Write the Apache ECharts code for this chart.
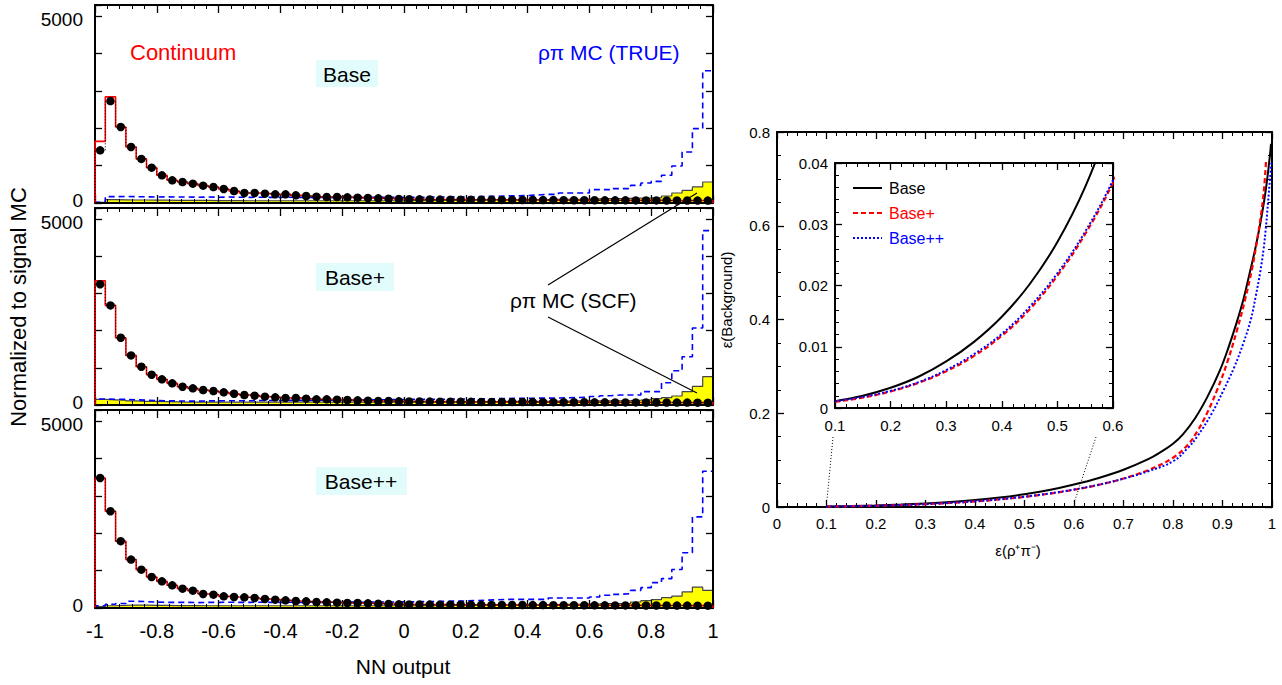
<!DOCTYPE html>
<html><head><meta charset="utf-8">
<script src="https://cdn.jsdelivr.net/npm/echarts@6/dist/echarts.min.js"></script>
<style>html,body{margin:0;padding:0;background:#fff;} #c{width:1282px;height:685px;}</style>
</head><body><div id="c"></div>
<script>
// ---------- DATA ----------
// NN output histograms: 60 bins from -1 to 1
const nnTickLabels = ['-1','-0.8','-0.6','-0.4','-0.2','0','0.2','0.4','0.6','0.8','1'];
const yTickLabels = ['0','5000'];

const baseCont = [1650,2840,2035,1500,1180,946,741,607,562,518, 464,428,375,321,268,268,250,232,232,205, 187,170,160,160,152,143,134,125,116,107, 100,98,95,92,90,90,88,86,85,83, 82,80,80,78,77,76,75,74,73,72, 72,71,70,70,69,68,67,66,65,64];
const baseData = [1410,2730,2035,1500,1180,946,741,607,562,518, 464,428,375,321,268,268,250,232,232,205, 187,170,160,160,152,143,134,125,116,107, 100,98,95,92,90,90,88,86,85,83, 82,80,80,78,77,76,75,74,73,72, 72,71,70,70,69,68,67,66,65,64];
const baseTrue = [20,170,175,170,165,160,165,160,160,155, 160,155,160,155,150,155,150,150,155,150, 150,150,145,150,150,145,150,150,150,150, 155,155,160,160,165,165,170,175,180,190, 190,200,215,232,232,268,268,268,357,357, 384,384,473,535,580,741,990,1366,1990,3540];
const baseScf = [20,90,85,80,80,75,75,70,70,70, 70,65,65,65,60,60,60,60,60,60, 60,60,60,60,60,60,60,60,60,60, 65,65,65,70,70,70,75,75,80,80, 85,85,90,90,95,100,100,105,110,115, 120,125,130,135,143,187,268,340,430,562];

const plusCont = [3340,2680,1810,1334,1030,815,690,582,492,448, 403,376,340,304,269,251,224,206,188,188, 170,152,152,143,134,125,116,107,107,98, 95,93,92,90,88,87,85,84,83,82, 80,80,78,77,76,75,74,73,72,71, 70,70,69,68,67,66,65,64,63,62];
const plusData = [3250,2680,1810,1334,1030,815,690,582,492,448, 403,376,340,304,269,251,224,206,188,188, 170,152,152,143,134,125,116,107,107,98, 95,93,92,90,88,87,85,84,83,82, 80,80,78,77,76,75,74,73,72,71, 70,70,69,68,67,66,65,64,63,62];
const plusTrue = [160,155,150,140,130,120,110,110,105,105, 110,110,115,115,115,120,120,120,125,125, 130,130,130,135,135,140,140,140,145,145, 150,150,155,155,160,160,165,165,170,175, 180,180,185,185,190,195,200,210,230,250, 269,269,269,360,360,600,920,1300,2070,4690];
const plusScf = [150,140,130,110,100,95,90,85,80,80, 75,75,75,75,75,75,75,75,75,75, 75,75,75,75,75,75,75,75,75,75, 75,75,80,80,80,85,85,90,90,95, 95,100,100,100,105,105,110,110,110,110, 115,120,130,145,170,197,242,358,500,761];

const ppCont = [3480,2590,1790,1295,1027,830,714,607,518,464, 375,357,312,295,286,268,241,223,205,187, 179,160,152,143,134,134,125,116,107,98, 95,93,92,90,88,87,85,84,83,82, 80,80,78,77,76,75,74,73,72,71, 70,70,69,68,67,66,65,64,63,62];
const ppData = [3480,2590,1790,1295,1027,830,714,607,518,464, 375,357,312,295,286,268,241,223,205,187, 179,160,152,143,134,134,125,116,107,98, 95,93,92,90,88,87,85,84,83,82, 80,80,78,77,76,75,74,73,72,71, 70,70,69,68,67,66,65,64,63,62];
const ppTrue = [60,100,120,180,170,160,150,150,150,145, 150,150,155,150,150,155,150,150,155,150, 155,150,155,155,160,155,160,160,160,165, 165,170,175,180,185,190,200,210,220,232, 232,232,232,232,268,268,268,268,295,340, 366,384,473,545,680,785,1030,1480,2440,3660];
const ppScf = [40,60,70,80,75,70,70,65,65,65, 60,60,60,60,60,60,60,60,60,60, 60,60,60,60,60,60,60,60,60,60, 60,65,65,65,70,70,70,75,75,80, 80,80,85,85,90,95,100,105,110,116, 116,120,160,196,223,277,320,430,560,473];

// Efficiency curves: signal efficiency (x) vs background efficiency (y)
const baseEffSig = [0.1,0.15,0.2,0.25,0.3,0.35,0.4,0.45,0.5,0.55,0.6,0.65,0.7,0.75,0.775,0.8,0.82,0.845,0.87,0.895,0.912,0.929,0.943,0.954,0.966,0.976,0.984,0.99,0.995,0.998];
const baseEffBkg = [0.0011,0.002,0.0033,0.0051,0.0076,0.0108,0.0149,0.0202,0.0271,0.0361,0.0479,0.062,0.0795,0.102,0.117,0.135,0.155,0.19,0.236,0.292,0.34,0.395,0.446,0.495,0.55,0.603,0.652,0.697,0.742,0.775];
const plusEffSig = [0.1,0.15,0.2,0.25,0.3,0.35,0.4,0.45,0.5,0.55,0.6,0.65,0.7,0.75,0.8,0.83,0.85,0.87,0.89,0.91,0.93,0.945,0.96,0.97,0.978,0.984,0.988];
const plusEffBkg = [0.001,0.0017,0.0027,0.0041,0.006,0.0085,0.0118,0.0161,0.0216,0.0284,0.0368,0.0473,0.0608,0.0788,0.105,0.133,0.163,0.203,0.252,0.31,0.38,0.44,0.51,0.57,0.625,0.68,0.739];
const ppEffSig = [0.1,0.15,0.2,0.25,0.3,0.35,0.4,0.45,0.5,0.55,0.6,0.65,0.7,0.75,0.8,0.83,0.85,0.878,0.902,0.924,0.942,0.957,0.967,0.976,0.983,0.988,0.992,0.996,0.999];
const ppEffBkg = [0.0011,0.0018,0.0028,0.0042,0.0062,0.0088,0.0121,0.0165,0.022,0.0288,0.0372,0.0476,0.0604,0.0764,0.0974,0.126,0.152,0.199,0.249,0.299,0.349,0.399,0.449,0.5,0.55,0.6,0.65,0.7,0.735];

// ---------- CHART ----------
const FONT = "'Liberation Sans', Arial, Helvetica, sans-serif";
const NB = 60, XMIN = -1, XMAX = 1, BW = (XMAX - XMIN) / NB;
function stepPts(vals) {
  const pts = [[XMIN, 0]];
  vals.forEach((v, i) => pts.push([XMIN + i * BW, v]));
  pts.push([XMAX, vals[vals.length - 1]]);
  pts.push([XMAX, 0]);
  return pts;
}
function centers(vals) { return vals.map((v, i) => [XMIN + (i + 0.5) * BW, v]); }
function pairs(xs, ys) { return xs.map((x, i) => [x, ys[i]]); }

function axis(o) {
  return {
    type: 'value', gridIndex: o.grid, position: o.pos, min: o.min, max: o.max, interval: o.interval,
    axisLine: { show: true, onZero: false, lineStyle: { color: '#000', width: o.lw || 2 } },
    axisTick: { show: true, inside: true, length: o.tl || 8, lineStyle: { color: '#000', width: 1.3 } },
    minorTick: { show: !!o.minor, splitNumber: o.minor || 5, length: o.ml || 4, lineStyle: { color: '#000', width: 1 } },
    splitLine: { show: false }, minorSplitLine: { show: false },
    axisLabel: { show: !!o.fmt, formatter: o.fmt, fontSize: o.fs || 15, color: '#000', fontFamily: FONT, margin: o.margin || 8,
      hideOverlap: false, showMinLabel: true, showMaxLabel: true, rich: o.rich },
    z: o.z || 3
  };
}

const panels = [
  { top: 5, h: 198, cont: baseCont, data: baseData, tru: baseTrue, scf: baseScf },
  { top: 208, h: 197, cont: plusCont, data: plusData, tru: plusTrue, scf: plusScf },
  { top: 410, h: 198, cont: ppCont, data: ppData, tru: ppTrue, scf: ppScf }
];

const grids = [], xAxes = [], yAxes = [], series = [];
const nnFmt = v => { const s = String(+(+v).toFixed(2)); return nnTickLabels.includes(s) ? s : ''; };
const yFmt = v => { const s = String(Math.round(v)); if (!yTickLabels.includes(s)) return ''; return s === '0' ? '{lo|0}' : '{hi|' + s + '}'; };
const yRich = { lo: { fontSize: 19, fontFamily: FONT, color: '#000', padding: [0, 0, 6, 0] }, hi: { fontSize: 19, fontFamily: FONT, color: '#000', padding: [6, 0, 0, 0] } };

panels.forEach((p, i) => {
  grids.push({ left: 95, top: p.top, width: 618, height: p.h });
  xAxes.push(axis({ grid: i, pos: 'bottom', min: XMIN, max: XMAX, interval: 0.2, minor: 5, fmt: i === 2 ? nnFmt : null, fs: 20, margin: 13 }));
  xAxes.push(axis({ grid: i, pos: 'top', min: XMIN, max: XMAX, interval: 0.2, minor: 5 }));
  yAxes.push(axis({ grid: i, pos: 'left', min: 0, max: 5300, interval: 1000, fmt: yFmt, rich: yRich, fs: 19, margin: 12, tl: 7 }));
  yAxes.push(axis({ grid: i, pos: 'right', min: 0, max: 5300, interval: 1000, tl: 7 }));
  const xi = 2 * i, yi = 2 * i;
  series.push({ type: 'line', xAxisIndex: xi, yAxisIndex: yi, data: stepPts(p.scf), step: 'end', symbol: 'none', silent: true,
    lineStyle: { color: '#444', width: 1.2 }, areaStyle: { color: '#ffff00', opacity: 1 }, z: 1 });
  series.push({ type: 'line', xAxisIndex: xi, yAxisIndex: yi, data: stepPts(p.tru), step: 'end', symbol: 'none', silent: true,
    lineStyle: { color: '#0000ff', width: 1.6, type: [6, 4] }, z: 2 });
  series.push({ type: 'line', xAxisIndex: xi, yAxisIndex: yi, data: stepPts(p.cont), step: 'end', symbol: 'none', silent: true,
    lineStyle: { color: '#ff0000', width: 1.6 }, z: 3 });
  series.push({ type: 'line', xAxisIndex: xi, yAxisIndex: yi, data: stepPts(p.data), step: 'end', symbol: 'none', silent: true,
    lineStyle: { color: '#000', width: 1, type: [1, 2] }, z: 4 });
  series.push({ type: 'scatter', xAxisIndex: xi, yAxisIndex: yi, data: centers(p.data), symbol: 'circle', symbolSize: 8.5, silent: true,
    itemStyle: { color: '#000', opacity: 1 }, z: 5 });
});

// right main plot (grid 3) and inset (grid 4)
grids.push({ left: 777, top: 132, width: 495, height: 375 });
grids.push({ left: 835, top: 163, width: 278, height: 245, show: true, backgroundColor: '#fff', borderWidth: 0, z: 6 });
const effFmt = v => { const r = +(+v).toFixed(3); return r === 0 ? '0' : r === 1 ? '1' : String(r); };
xAxes.push(axis({ grid: 3, pos: 'bottom', min: 0, max: 1, interval: 0.1, minor: 5, fmt: effFmt, fs: 15, margin: 9, tl: 7, ml: 4 }));
xAxes.push(axis({ grid: 3, pos: 'top', min: 0, max: 1, interval: 0.1, minor: 5, tl: 7, ml: 4 }));
yAxes.push(axis({ grid: 3, pos: 'left', min: 0, max: 0.8, interval: 0.2, minor: 4, fmt: effFmt, fs: 15, margin: 7, tl: 7, ml: 4 }));
yAxes.push(axis({ grid: 3, pos: 'right', min: 0, max: 0.8, interval: 0.2, minor: 4, tl: 7, ml: 4 }));
xAxes.push(axis({ grid: 4, pos: 'bottom', min: 0.1, max: 0.6, interval: 0.1, minor: 5, fmt: effFmt, fs: 15, margin: 10, tl: 7, ml: 4, z: 7 }));
xAxes.push(axis({ grid: 4, pos: 'top', min: 0.1, max: 0.6, interval: 0.1, minor: 5, tl: 7, ml: 4, z: 7 }));
yAxes.push(axis({ grid: 4, pos: 'left', min: 0, max: 0.04, interval: 0.01, minor: 5, fmt: effFmt, fs: 15, margin: 7, tl: 7, ml: 4, z: 7 }));
yAxes.push(axis({ grid: 4, pos: 'right', min: 0, max: 0.04, interval: 0.01, minor: 5, tl: 7, ml: 4, z: 7 }));

const curves = [
  { name: 'Base', d: pairs(baseEffSig, baseEffBkg), ls: { color: '#000', width: 2, type: 'solid' } },
  { name: 'Base+', d: pairs(plusEffSig, plusEffBkg), ls: { color: '#ff0000', width: 2.2, type: [5, 3] } },
  { name: 'Base++', d: pairs(ppEffSig, ppEffBkg), ls: { color: '#0000ff', width: 2, type: [2, 2] } }
];
curves.forEach(c => {
  series.push({ type: 'line', name: c.name, xAxisIndex: 6, yAxisIndex: 6, data: c.d, symbol: 'none', smooth: 0.4, silent: true, lineStyle: c.ls, itemStyle: { color: c.ls.color }, z: 3 });
});
curves.forEach(c => {
  series.push({ type: 'line', name: c.name, xAxisIndex: 8, yAxisIndex: 8, data: c.d, symbol: 'none', smooth: 0.4, clip: true, silent: true, lineStyle: c.ls, itemStyle: { color: c.ls.color }, z: 8 });
});

function txt(x, y, text, color, size, align, extra) {
  return Object.assign({ type: 'text', x, y, z: 100, silent: true,
    style: { text, fill: color, fontSize: size, fontFamily: FONT, align: align || 'left', verticalAlign: 'middle' } }, extra || {});
}
const box = (x, y, w, h) => ({ type: 'rect', z: 90, silent: true, shape: { x, y, width: w, height: h }, style: { fill: '#e2fcfc' } });
const seg = (x1, y1, x2, y2, stroke, w, dash) => ({ type: 'line', z: 100, silent: true, shape: { x1, y1, x2, y2 }, style: { stroke, lineWidth: w, lineDash: dash || null } });

const graphic = [
  txt(130, 52, 'Continuum', '#ff0000', 22),
  txt(538, 52, 'ρπ MC (TRUE)', '#0000ff', 21),
  box(316, 60, 62, 27), txt(347, 74, 'Base', '#000', 21, 'center'),
  box(316, 263, 78, 28), txt(355, 277, 'Base+', '#000', 21, 'center'),
  box(316, 467, 91, 28), txt(361, 481, 'Base++', '#000', 21, 'center'),
  txt(510, 300, 'ρπ MC (SCF)', '#000', 21),
  seg(548, 285, 697, 193, '#000', 1.2),
  seg(548, 317, 697, 393, '#000', 1.2),
  txt(403, 666, 'NN output', '#000', 21, 'center'),
  txt(18, 307, 'Normalized to signal MC', '#000', 22, 'center', { rotation: Math.PI / 2 }),
  txt(726, 300, 'ε(Background)', '#000', 15, 'center', { rotation: Math.PI / 2 }),
  txt(1018, 550, 'ε(ρ⁺π⁻)', '#000', 15, 'center'),
  seg(833, 437, 827, 500, '#000', 1, [1, 2]),
  seg(1096, 437, 1075, 500, '#000', 1, [1, 2]),
  // inset legend
  Object.assign(seg(853, 188, 882, 188, '#000', 2), { z: 120 }),
  Object.assign(txt(889, 188, 'Base', '#000', 16), { z: 120 }),
  Object.assign(seg(853, 213, 882, 213, '#ff0000', 2.2, [5, 3]), { z: 120 }),
  Object.assign(txt(889, 213, 'Base+', '#ff0000', 16), { z: 120 }),
  Object.assign(seg(853, 238, 882, 238, '#0000ff', 2, [2, 2]), { z: 120 }),
  Object.assign(txt(889, 238, 'Base++', '#0000ff', 16), { z: 120 })
];

const chart = echarts.init(document.getElementById('c'), null, { renderer: 'svg', width: 1282, height: 685 });
chart.setOption({
  animation: false,
  backgroundColor: '#fff',
  textStyle: { fontFamily: FONT },
  grid: grids, xAxis: xAxes, yAxis: yAxes, series,
  graphic
});
</script>
</body></html>
